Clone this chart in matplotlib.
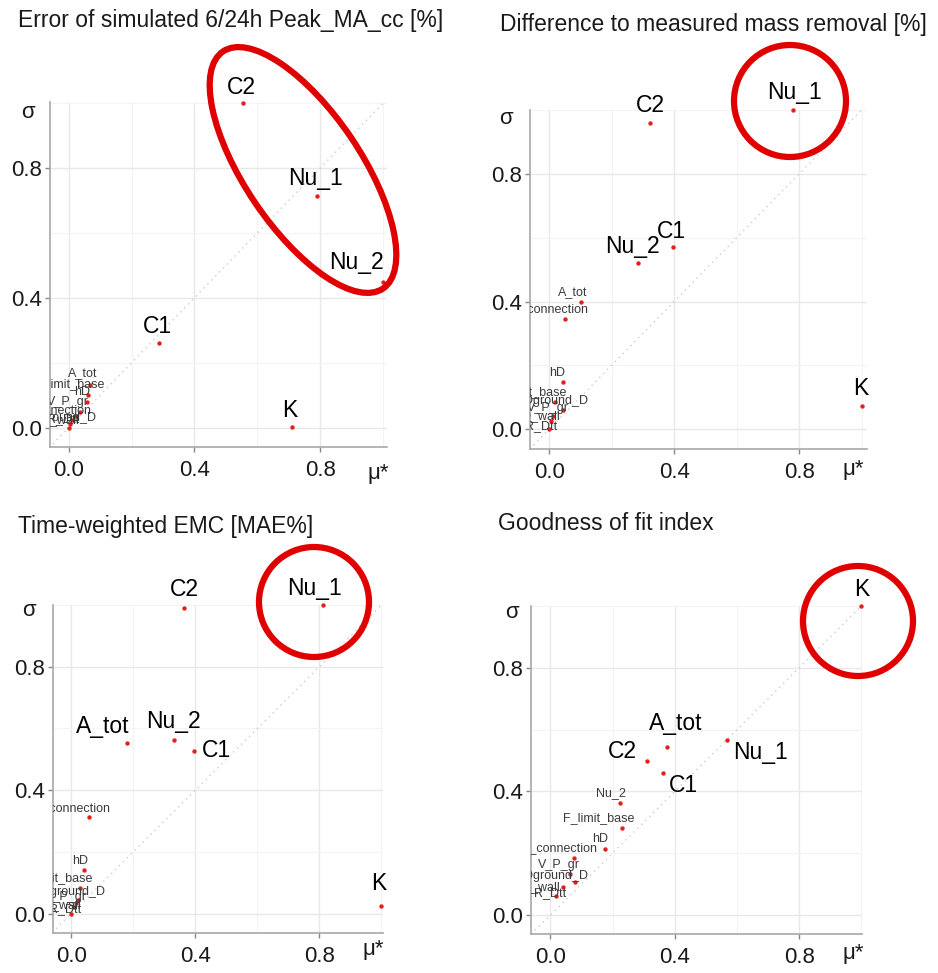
import numpy as np
import matplotlib.pyplot as plt
from matplotlib.patches import Ellipse

plt.rcParams['font.family'] = ['Liberation Sans', 'DejaVu Sans']

# Data: Morris screening (mu*, sigma), normalised
names = ["C1", "C2", "Nu_1", "Nu_2", "K", "A_tot", "S_connection", "hD",
         "F_limit_base", "V_P_gr", "Dground_D", "D_wall", "R_Dtt"]

peak_mu    = [0.287, 0.553, 0.791, 1.000, 0.712, 0.067, 0.020, 0.058, 0.062, 0.035, 0.012, 0.004, 0.000]
peak_sigma = [0.261, 1.000, 0.714, 0.448, 0.002, 0.130, 0.035, 0.078, 0.100, 0.047, 0.022, 0.012, 0.000]

mass_mu    = [0.395, 0.323, 0.779, 0.285, 1.000, 0.102, 0.051, 0.043, 0.019, 0.011, 0.043, 0.006, 0.000]
mass_sigma = [0.571, 0.958, 1.000, 0.520, 0.074, 0.398, 0.346, 0.148, 0.086, 0.040, 0.060, 0.025, 0.000]

emc_mu     = [0.396, 0.364, 0.811, 0.332, 0.997, 0.180, 0.056, 0.040, 0.029, 0.015, 0.022, 0.008, 0.000]
emc_sigma  = [0.528, 0.991, 1.000, 0.562, 0.025, 0.552, 0.314, 0.142, 0.083, 0.035, 0.043, 0.020, 0.000]

gof_mu     = [0.362, 0.311, 0.568, 0.225, 1.000, 0.374, 0.076, 0.177, 0.230, 0.063, 0.079, 0.042, 0.017]
gof_sigma  = [0.461, 0.500, 0.565, 0.362, 0.999, 0.544, 0.186, 0.215, 0.281, 0.134, 0.107, 0.090, 0.061]

titles = ["Error of simulated 6/24h Peak_MA_cc [%]",
          "Difference to measured mass removal [%]",
          "Time-weighted EMC [MAE%]",
          "Goodness of fit index"]

# Layout (pixels in a 938x973 canvas)
W, H = 938, 973
panels = [
    dict(mu=peak_mu, sigma=peak_sigma, box=(50, 102, 387, 447),
         xlim=(-0.06, 1.013), ylim=(-0.06, 1.004),
         big=["C1", "C2", "Nu_1", "Nu_2", "K"],
         off={"C2": (-1, 16), "Nu_1": (-2, 18), "Nu_2": (-26, 20), "C1": (-2, 16), "K": (-3, 16),
              "A_tot": (-7, 12), "F_limit_base": (-20, 11), "hD": (-5, 10), "V_P_gr": (-12, 10),
              "S_connection": (-22, 6), "Dground_D": (-9, 2), "D_wall": (-10, 4), "R_Dtt": (-6, 8)},
         title=(18, 20), sig=(28, 113), mu_lab=(378, 473)),
    dict(mu=mass_mu, sigma=mass_sigma, box=(530, 110, 867, 449),
         xlim=(-0.061, 1.017), ylim=(-0.062, 0.998),
         big=["C1", "C2", "Nu_1", "Nu_2", "K"],
         off={"Nu_1": (2, 18), "C2": (0, 18), "C1": (-1, 15), "Nu_2": (-6, 17), "K": (-1, 17),
              "A_tot": (-8, 10), "S_connection": (-15, 10), "hD": (-5, 9), "F_limit_base": (-24, 10),
              "Dground_D": (-7, 9), "V_P_gr": (-5, 8), "D_wall": (-10, 5), "R_Dtt": (-8, 3)},
         title=(500, 25), sig=(506, 118), mu_lab=(853, 470)),
    dict(mu=emc_mu, sigma=emc_sigma, box=(53, 605, 383, 933),
         xlim=(-0.059, 1.005), ylim=(-0.063, 0.996),
         big=["C1", "C2", "Nu_1", "Nu_2", "K", "A_tot"],
         off={"C2": (0, 18), "Nu_1": (-8, 17), "A_tot": (-24, 17), "Nu_2": (-1, 19), "C1": (22, 0),
              "K": (-2, 22), "S_connection": (-16, 9), "hD": (-4, 9), "F_limit_base": (-24, 10),
              "Dground_D": (-5, 8), "V_P_gr": (-10, 6), "D_wall": (-12, 2), "R_Dtt": (-6, 4)},
         title=(18, 527), sig=(29, 610), mu_lab=(373, 950)),
    dict(mu=gof_mu, sigma=gof_sigma, box=(531, 606, 862, 934),
         xlim=(-0.062, 1.002), ylim=(-0.061, 0.994),
         big=["C1", "C2", "Nu_1", "K", "A_tot"],
         off={"K": (0, 17), "A_tot": (9, 23), "Nu_1": (34, -12), "C2": (-25, 9), "C1": (21, -13),
              "Nu_2": (-9, 10), "F_limit_base": (-23, 10), "hD": (-5, 10), "S_connection": (-15, 10),
              "V_P_gr": (-11, 9), "Dground_D": (-19, 6), "D_wall": (-22, 0), "R_Dtt": (-5, 3)},
         title=(498, 523), sig=(512, 613), mu_lab=(853, 953)),
]

fig = plt.figure(figsize=(W / 100, H / 100), dpi=100)
fig.patch.set_facecolor('white')

for p in panels:
    x0, y0, x1, y1 = p['box']
    ax = fig.add_axes([x0 / W, (H - y1) / H, (x1 - x0) / W, (y1 - y0) / H])
    ax.set_xlim(*p['xlim'])
    ax.set_ylim(*p['ylim'])
    for s in ['top', 'right']:
        ax.spines[s].set_visible(False)
    for s in ['left', 'bottom']:
        ax.spines[s].set_color('#a8a8a8')
        ax.spines[s].set_linewidth(1.2)
    ax.set_xticks([0, 0.4, 0.8])
    ax.set_yticks([0, 0.4, 0.8])
    ax.set_xticklabels(['0.0', '0.4', '0.8'])
    ax.set_yticklabels(['0.0', '0.4', '0.8'])
    ax.set_xticks([0.2, 0.6, 1.0], minor=True)
    ax.set_yticks([0.2, 0.6, 1.0], minor=True)
    ax.tick_params(which='major', length=3.5, width=1, color='#888888', labelsize=16,
                   labelcolor='#1a1a1a', pad=2)
    ax.tick_params(axis='x', which='major', pad=6)
    ax.tick_params(which='minor', length=0)
    ax.grid(which='major', color='#e8e8e8', lw=1.0)
    ax.grid(which='minor', color='#f3f3f3', lw=0.8)
    ax.set_axisbelow(True)

    ax.plot([-0.1, 1.1], [-0.1, 1.1], ls=(0, (1, 3)), color='#cccccc', lw=1.0, zorder=1)
    ax.scatter(p['mu'], p['sigma'], s=10, color='#e3201b', zorder=5, clip_on=False, linewidths=0)

    for n, mx, sy in zip(names, p['mu'], p['sigma']):
        dx, dy = p['off'].get(n, (0, 10))
        if n in p['big']:
            ax.annotate(n, (mx, sy), xytext=(dx, dy), textcoords='offset pixels',
                        ha='center', va='center', fontsize=16.5, color='black',
                        annotation_clip=False, zorder=6)
        else:
            ax.annotate(n, (mx, sy), xytext=(dx, dy), textcoords='offset pixels',
                        ha='center', va='center', fontsize=9, color='#3a3a3a',
                        annotation_clip=False, clip_on=True, zorder=6)

# overlay in pixel coordinates for titles, axis symbols and highlight rings
ov = fig.add_axes([0, 0, 1, 1], zorder=10)
ov.set_xlim(0, W)
ov.set_ylim(H, 0)
ov.axis('off')
ov.patch.set_alpha(0)

for p, t in zip(panels, titles):
    ov.text(p['title'][0], p['title'][1], t, fontsize=16.5, ha='left', va='center', color='#1a1a1a')
    ov.text(p['sig'][0], p['sig'][1], 'σ', fontsize=16, ha='center', va='center', color='#1a1a1a')
    ov.text(p['mu_lab'][0], p['mu_lab'][1], 'μ*', fontsize=16, ha='center', va='center', color='#1a1a1a')

ring = dict(fill=False, edgecolor='#e10000', lw=4.5)
ov.add_patch(Ellipse((303, 170), 2 * 143, 2 * 58, angle=56, **ring))
ov.add_patch(Ellipse((790, 101), 2 * 56, 2 * 56, **ring))
ov.add_patch(Ellipse((314, 602), 2 * 55, 2 * 55, **ring))
ov.add_patch(Ellipse((858, 621), 2 * 55, 2 * 55, **ring))

fig.savefig('out.png', dpi=100)
